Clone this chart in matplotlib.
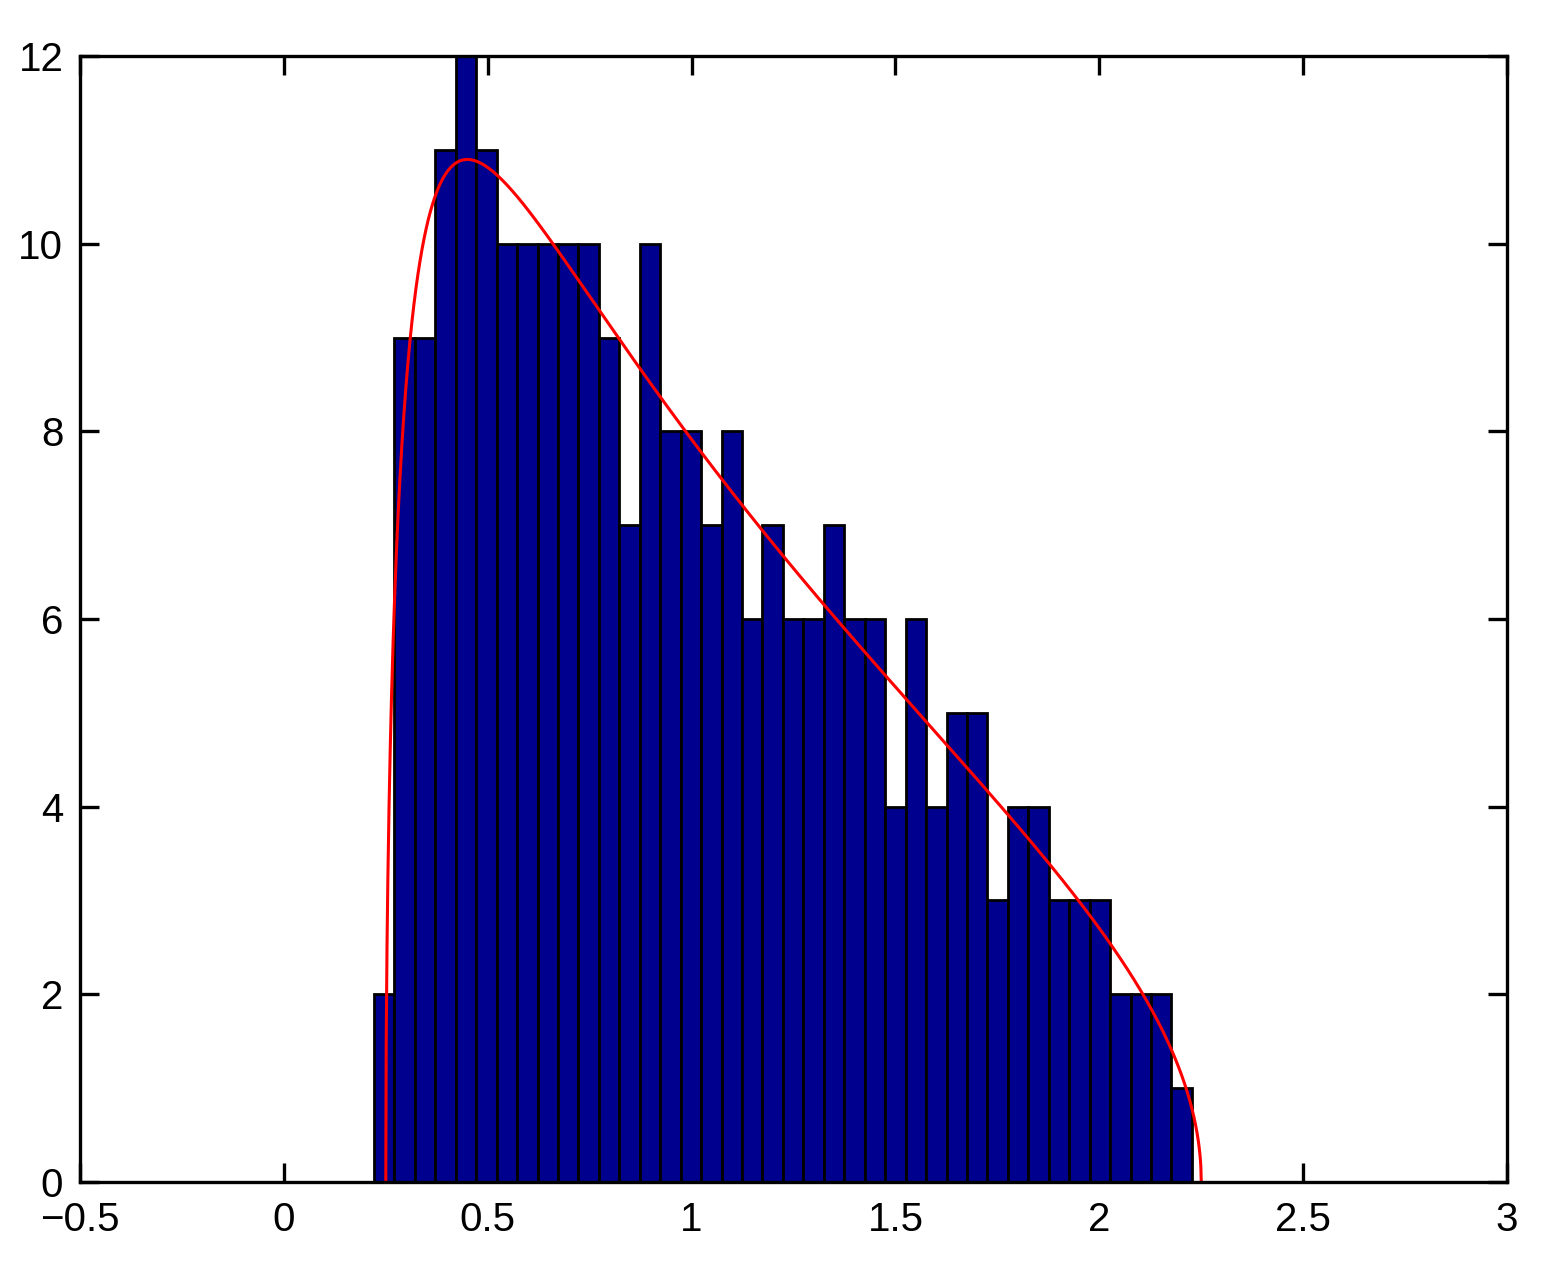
import numpy as np
import matplotlib.pyplot as plt

# histogram counts, 40 equal bins
counts = [2, 9, 9, 11, 12, 11, 10, 10, 10, 10,
          10, 9, 7, 10, 8, 8, 7, 8, 6, 7,
          6, 6, 7, 6, 6, 4, 6, 4, 5, 5,
          3, 4, 4, 3, 3, 3, 2, 2, 2, 1]
bin_start = 0.221
bin_end = 2.227

# Marchenko-Pastur curve parameters (ratio c, support edges)
mp_ratio = 0.25
mp_low = (1 - np.sqrt(mp_ratio)) ** 2
mp_high = (1 + np.sqrt(mp_ratio)) ** 2

xticks = [-0.5, 0, 0.5, 1, 1.5, 2, 2.5, 3]
yticks = [0, 2, 4, 6, 8, 10, 12]

plt.rcParams['font.family'] = ['Liberation Sans', 'DejaVu Sans']

fig = plt.figure(figsize=(15.5, 12.7), dpi=100)
ax = fig.add_axes([0.0516, 0.0693, 0.9207, 0.8866])

edges = np.linspace(bin_start, bin_end, len(counts) + 1)
width = edges[1] - edges[0]
ax.bar(edges[:-1], counts, width=width, align='edge', color='#00008F',
       edgecolor='black', linewidth=2.0, zorder=2)

# theoretical density scaled to counts
total = sum(counts)
xs = np.linspace(mp_low, mp_high, 2000)
dens = np.sqrt(np.clip((mp_high - xs) * (xs - mp_low), 0, None)) / (2 * np.pi * mp_ratio * xs)
ax.plot(xs, dens * total * width, color='red', linewidth=2.2, zorder=3)

ax.set_xlim(-0.5, 3)
ax.set_ylim(0, 12)
ax.set_xticks(xticks)
ax.set_yticks(yticks)
ax.set_xticklabels(['\u22120.5', '0', '0.5', '1', '1.5', '2', '2.5', '3'])
ax.tick_params(direction='in', length=14, width=2.4, labelsize=29,
               top=True, right=True)
ax.tick_params(axis='x', pad=14)
ax.tick_params(axis='y', pad=12)
for s in ax.spines.values():
    s.set_linewidth(2.4)
    s.set_zorder(5)

fig.savefig('out.png', dpi=100)
